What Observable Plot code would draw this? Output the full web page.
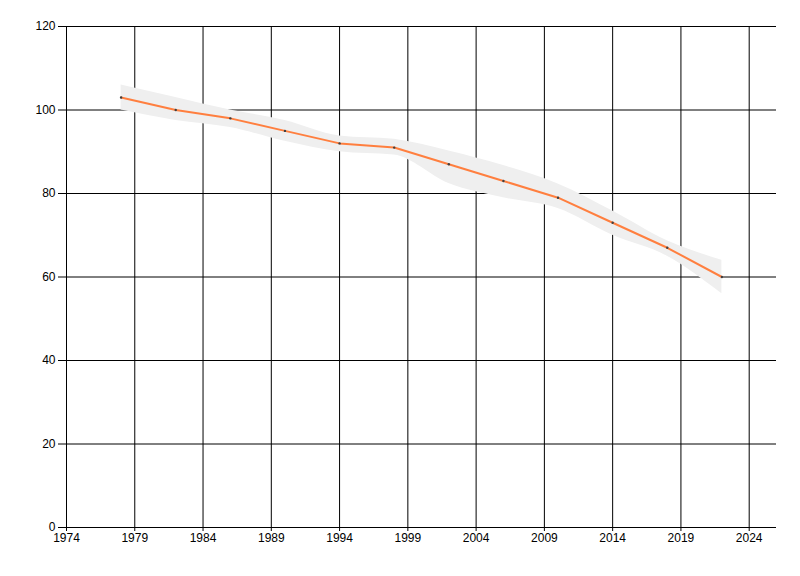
<!DOCTYPE html>
<html>
<head>
<meta charset="utf-8">
<script src="https://cdn.jsdelivr.net/npm/d3@7"></script>
<script src="https://cdn.jsdelivr.net/npm/@observablehq/plot@0.6"></script>
<style>
  html, body { margin: 0; padding: 0; background: #fff; }
  #chart svg { display: block; }
</style>
</head>
<body>
<div id="chart"></div>
<script>
const years = [1978, 1982, 1986, 1990, 1994, 1998, 2002, 2006, 2010, 2014, 2018, 2022];
const values = [103, 100, 98, 95, 92, 91, 87, 83, 79, 73, 67, 60];
const upper = [106, 103, 100, 97.5, 93.8, 93, 90.2, 86.7, 82.3, 75.8, 68.7, 64];
const lower = [100, 97.5, 95.8, 92.5, 90, 89.2, 82.4, 79, 76.4, 70, 65, 56];
const xTicks = [1974, 1979, 1984, 1989, 1994, 1999, 2004, 2009, 2014, 2019, 2024];
const yTicks = [0, 20, 40, 60, 80, 100, 120];

const data = years.map((y, i) => ({year: y, value: values[i], hi: upper[i], lo: lower[i]}));

const chart = Plot.plot({
  width: 800,
  height: 576,
  marginLeft: 66,
  marginRight: 24,
  marginTop: 26,
  marginBottom: 49,
  style: {fontFamily: "'Liberation Sans', Arial, sans-serif", fontSize: "12px", color: "#000", background: "#fff"},
  x: {domain: [1974, 2026]},
  y: {domain: [0, 120]},
  marks: [
    Plot.gridX(xTicks, {stroke: "#000", strokeOpacity: 1, strokeWidth: 1}),
    Plot.gridY(yTicks, {stroke: "#000", strokeOpacity: 1, strokeWidth: 1}),
    Plot.areaY(data, {x: "year", y1: "lo", y2: "hi", fill: "#efefef", curve: "monotone-x"}),
    Plot.ruleX([1974], {stroke: "#000"}),
    Plot.ruleY([0], {stroke: "#000"}),
    Plot.axisX(xTicks, {tickSize: 4, tickPadding: 2, tickFormat: "d", label: null, stroke: "#000", fill: "#000", fontSize: 12}),
    Plot.axisY(yTicks, {tickSize: 8, tickPadding: 3, label: null, stroke: "#000", fill: "#000", fontSize: 12}),
    Plot.line(data, {x: "year", y: "value", stroke: "#ff7f3f", strokeWidth: 2}),
    Plot.dot(data, {x: "year", y: "value", r: 1.2, fill: "#404040", stroke: null})
  ]
});
document.getElementById("chart").appendChild(chart);
</script>
</body>
</html>
